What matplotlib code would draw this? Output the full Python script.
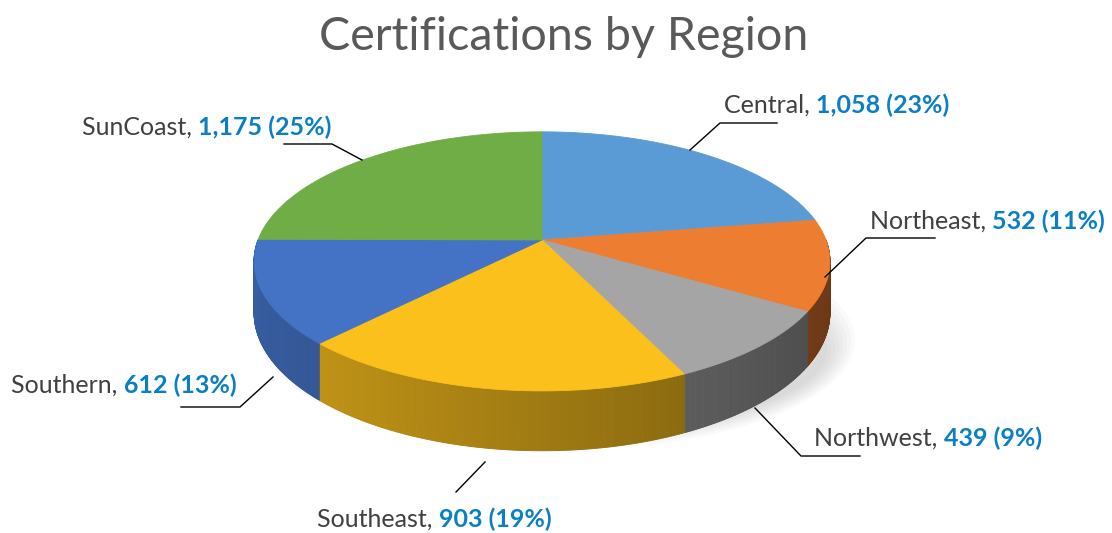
import numpy as np
import matplotlib
matplotlib.use("Agg")
import matplotlib.pyplot as plt
from matplotlib.patches import Polygon, Ellipse
from matplotlib.collections import PolyCollection
from matplotlib.colors import to_rgb

plt.rcParams['font.family'] = ['Lato', 'DejaVu Sans']

# data
regions = ['Central', 'Northeast', 'Northwest', 'Southeast', 'Southern', 'SunCoast']
counts = [1058, 532, 439, 903, 612, 1175]
pct_labels = ['23%', '11%', '9%', '19%', '13%', '25%']
colors = ['#5B9BD5', '#ED7D31', '#A5A5A5', '#FBC01C', '#4472C4', '#70AD47']

# label placement (pixel coords, baseline) and leader lines
label_pos = [(724, 113), (870, 229), (814, 446), (317, 527), (11, 393), (82, 135)]
leaders = [
    [(690, 150), (720, 123), (777, 123)],
    [(825, 277), (866, 238), (935, 238)],
    [(755, 408), (801, 456), (860, 456)],
    [(485, 462), (456, 492)],
    [(273, 377), (240, 407), (181, 407)],
    [(362, 160), (332, 144), (284, 144)],
]

# pie geometry in pixels (simple perspective)
cx, cy = 542, 240
rx, ry = 284, 126
persp = 0.165
depth = 50

fig = plt.figure(figsize=(11.12, 5.33), dpi=100)
ax = fig.add_axes([0, 0, 1, 1])
ax.set_xlim(0, 1112)
ax.set_ylim(533, 0)
ax.axis('off')


def rim(t_deg, bottom=False):
    t = np.radians(np.asarray(t_deg, dtype=float))
    s = 1 / (1 + persp * np.sin(t))
    x = cx + rx * np.cos(t) * s
    y = cy - ry * np.sin(t) * s
    if bottom:
        y = y + depth * s
    return np.column_stack([x, y])


# soft shadow
for i in range(8):
    ax.add_patch(Ellipse((560, 340 + i * 1.5), 590 - i * 8, 220 - i * 8,
                         color='#777777', alpha=0.035, lw=0, zorder=1))

fracs = np.array(counts) / np.sum(counts)
cum = np.concatenate([[0], np.cumsum(fracs)])
t_start = 90 - 360 * cum[:-1]
t_end = 90 - 360 * cum[1:]

# side wall (front half only)
for i in range(len(counts)):
    a = min(t_start[i], 0)
    b = max(t_end[i], -180)
    if a <= b:
        continue
    ts = np.linspace(a, b, int((a - b) * 3) + 2)
    base = np.array(to_rgb(colors[i]))
    quads, fcs = [], []
    for t0, t1 in zip(ts[:-1], ts[1:]):
        p = rim([t0, t1])
        q = rim([t1, t0], bottom=True)
        quads.append(np.vstack([p, q]))
        tm = np.radians((t0 + t1) / 2)
        f = 0.45 + 0.37 * (1 - np.cos(tm)) / 2
        fcs.append(np.clip(base * f, 0, 1))
    ax.add_collection(PolyCollection(quads, facecolors=fcs, edgecolors=fcs, lw=0.6, zorder=2))

# top face
for i in range(len(counts)):
    ts = np.linspace(t_start[i], t_end[i], 200)
    pts = np.vstack([[(cx, cy)], rim(ts)])
    ax.add_patch(Polygon(pts, closed=True, facecolor=colors[i], edgecolor=colors[i],
                         lw=0.6, zorder=3))

# labels
for i, name in enumerate(regions):
    x, y = label_pos[i]
    t1 = ax.text(x, y, name + ', ', fontsize=18, color='#404040', va='baseline', ha='left', zorder=5)
    ax.annotate(f'{counts[i]:,} ({pct_labels[i]})', xy=(1, 0), xycoords=t1,
                fontsize=18, fontweight='bold', color='#0A7FC4', va='bottom', ha='left', zorder=5)
    xs, ys = zip(*leaders[i])
    ax.plot(xs, ys, color='black', lw=1, zorder=4)

ax.text(564, 50, 'Certifications by Region', fontsize=33.6, color='#595959',
        ha='center', va='baseline')

fig.savefig('out.png', dpi=100)
